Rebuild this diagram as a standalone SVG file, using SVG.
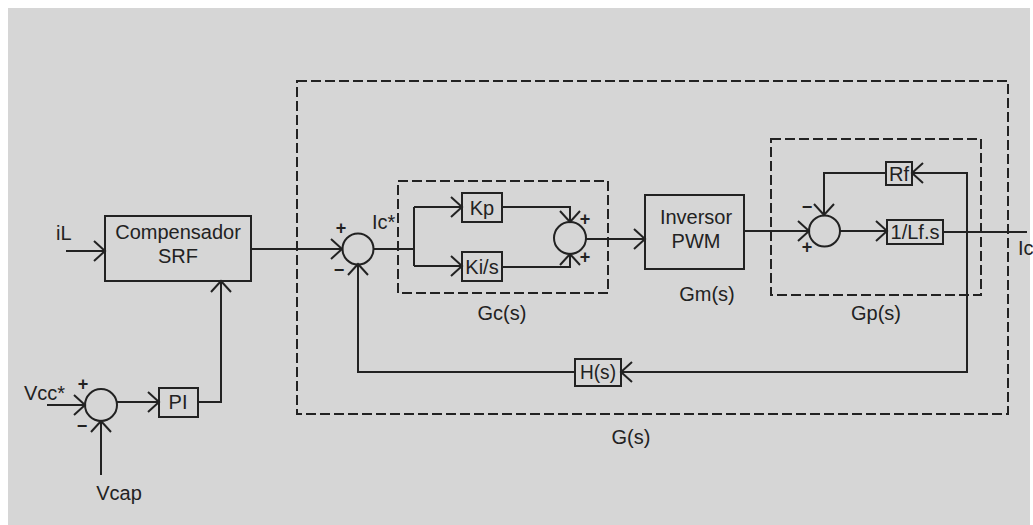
<svg xmlns="http://www.w3.org/2000/svg" width="1033" height="525" viewBox="0 0 1033 525">
<defs>
<marker id="arr" markerUnits="userSpaceOnUse" markerWidth="30" markerHeight="30" viewBox="-15 -15 30 30" refX="0" refY="0" orient="auto">
<path d="M-11,-10 L0,0 L-11,10" fill="none" stroke="#222" stroke-width="2"/>
</marker>
</defs>
<style>
.bg{fill:#d6d6d6}
.blk{fill:none;stroke:#222;stroke-width:2}
.dash{fill:none;stroke:#222;stroke-width:2;stroke-dasharray:10 4}
.sum{fill:none;stroke:#222;stroke-width:2}
.ln{fill:none;stroke:#222;stroke-width:2}
.ar{marker-end:url(#arr)}
text{font-family:"Liberation Sans",Arial,sans-serif;font-size:20px;fill:#222}
.c{text-anchor:middle}
.sg{font-size:18px;font-weight:bold;text-anchor:middle}
</style>
<rect x="0" y="0" width="1033" height="525" fill="#ffffff"/>
<rect class="bg" x="8" y="8" width="1022" height="517"/>

<g id="frames">
<rect id="G" class="dash" x="297" y="81" width="711" height="333"/>
<rect id="Gc" class="dash" x="398" y="181" width="210" height="112"/>
<rect id="Gp" class="dash" x="771" y="139" width="210" height="156"/>
<text class="c" x="631" y="444">G(s)</text>
<text class="c" x="502" y="320">Gc(s)</text>
<text class="c" x="707" y="301">Gm(s)</text>
<text class="c" x="876" y="320">Gp(s)</text>
</g>

<g id="connectors">
<path class="ln ar" d="M66,251 L105,251"/>
<path class="ln ar" d="M251,249 L342,249"/>
<path class="ln" d="M373,249 L414,249 M414,207 L414,266"/>
<path class="ln ar" d="M414,207 L462,207"/>
<path class="ln ar" d="M414,266 L462,266"/>
<path class="ln ar" d="M502,207 L570,207 L570,222"/>
<path class="ln ar" d="M502,267 L570,267 L570,254"/>
<path class="ln ar" d="M586,239 L645,239"/>
<path class="ln ar" d="M744,231 L809,231"/>
<path class="ln ar" d="M840,231 L887,231"/>
<path class="ln" d="M943,232 L1027,232"/>
<path class="ln ar" d="M967,232 L967,173 L912,173"/>
<path class="ln ar" d="M886,173 L824,173 L824,215"/>
<path class="ln ar" d="M967,232 L967,372 L621,372"/>
<path class="ln ar" d="M575,372 L358,372 L358,264"/>
<path class="ln ar" d="M47,405 L85,405"/>
<path class="ln ar" d="M101,475 L101,421"/>
<path class="ln ar" d="M117,402 L159,402"/>
<path class="ln ar" d="M198,402 L221,402 L221,281"/>
</g>

<g id="iL"><text x="56" y="240">iL</text></g>
<g id="compensador">
<rect class="blk" x="105" y="216" width="146" height="65"/>
<text class="c" x="178" y="239">Compensador</text>
<text class="c" x="178" y="263">SRF</text>
</g>
<g id="sum1">
<circle class="sum" cx="358" cy="249" r="15.5"/>
<text class="sg" x="341" y="234">+</text>
<text class="sg" x="339" y="276">−</text>
</g>
<g id="icstar"><text x="372" y="229">Ic*</text></g>
<g id="kp">
<rect class="blk" x="462" y="193" width="40" height="29"/>
<text class="c" x="482" y="215">Kp</text>
</g>
<g id="kis">
<rect class="blk" x="462" y="252" width="40" height="29"/>
<text class="c" x="482" y="274">Ki/s</text>
</g>
<g id="sum2">
<circle class="sum" cx="570" cy="238" r="16"/>
<text class="sg" x="585" y="225">+</text>
<text class="sg" x="585" y="263">+</text>
</g>
<g id="inversor">
<rect class="blk" x="645" y="195" width="99" height="74"/>
<text class="c" x="696" y="224">Inversor</text>
<text class="c" x="696" y="248">PWM</text>
</g>
<g id="sum3">
<circle class="sum" cx="824.5" cy="231" r="15.5"/>
<text class="sg" x="807" y="213">−</text>
<text class="sg" x="807" y="253">+</text>
</g>
<g id="rf">
<rect class="blk" x="886" y="162" width="26" height="23"/>
<text class="c" x="899" y="181">Rf</text>
</g>
<g id="lfs">
<rect class="blk" x="887" y="220" width="56" height="24"/>
<text class="c" x="915" y="239">1/Lf.s</text>
</g>
<g id="ic"><text x="1018" y="255">Ic</text></g>
<g id="hs">
<rect class="blk" x="575" y="359" width="46" height="27"/>
<text class="c" x="598" y="379" textLength="36" lengthAdjust="spacingAndGlyphs">H(s)</text>
</g>
<g id="vcc"><text x="24" y="400">Vcc*</text></g>
<g id="sum4">
<circle class="sum" cx="101" cy="405" r="16"/>
<text class="sg" x="83" y="390">+</text>
<text class="sg" x="82" y="432">−</text>
</g>
<g id="pi">
<rect class="blk" x="159" y="388" width="39" height="29"/>
<text class="c" x="178" y="409">PI</text>
</g>
<g id="vcap"><text class="c" x="119" y="500">Vcap</text></g>
</svg>
